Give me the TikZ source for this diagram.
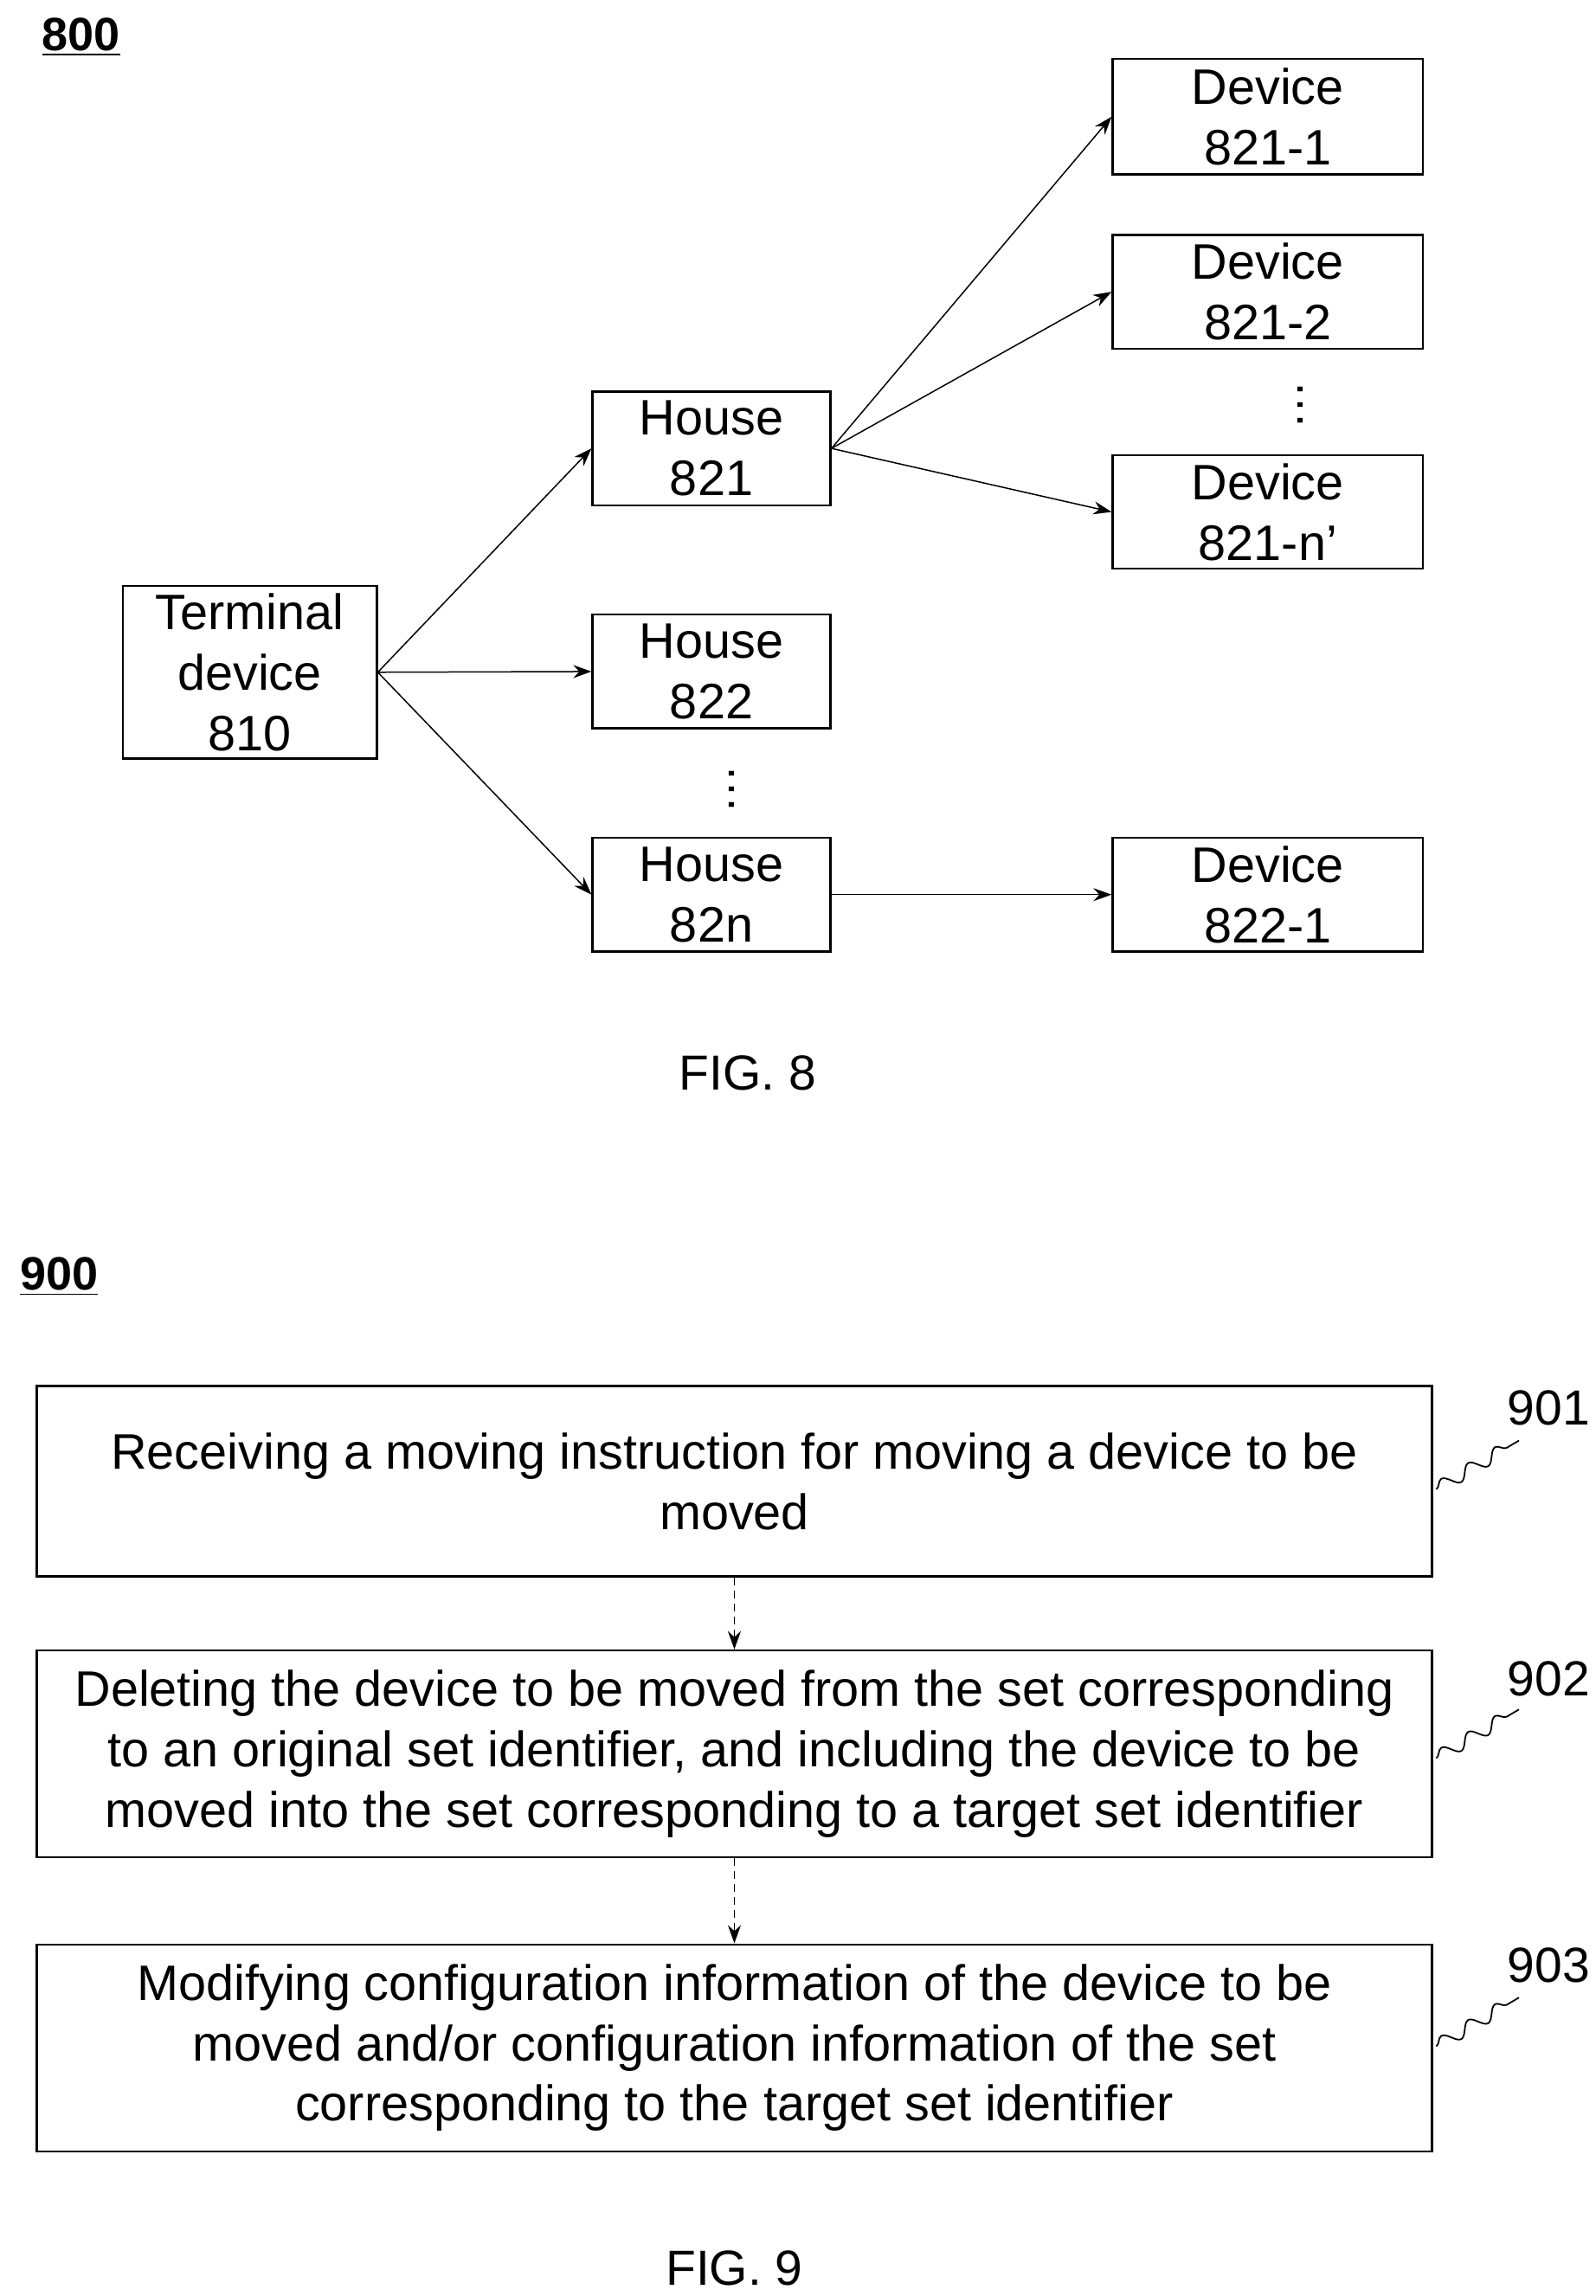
\documentclass[tikz,border=0pt]{standalone}
\usepackage{fontspec}
\setmainfont{Liberation Sans}
\usetikzlibrary{arrows.meta,decorations.pathmorphing}
\begin{document}
\begin{tikzpicture}[x=0.02cm,y=-0.02cm,
  box/.style={draw,line width=0.8pt,inner sep=0pt,align=center,font=\fontsize{19.2}{23.3}\selectfont},
  arr/.style={-{Stealth[length=7pt,width=5pt]},line width=0.5pt},
  darr/.style={-{Stealth[length=7pt,width=5pt]},line width=0.5pt,densely dashed},
  lbl/.style={font=\fontsize{19}{23.3}\selectfont},
  sq/.style={line width=0.6pt,decorate,decoration={snake,segment length=12pt,amplitude=2.5pt}}]
\useasboundingbox (0,0) rectangle (1080,1554);
\node[lbl,font=\fontsize{18}{20}\selectfont\bfseries] (n800) at (55,25) {\underline{800}};
\node[box,minimum width=172*0.02cm,minimum height=117*0.02cm] (t) at (169,455) {Terminal\\device\\810};
\node[box,minimum width=161*0.02cm,minimum height=77*0.02cm] (h1) at (481.5,303.5) {House\\821};
\node[box,minimum width=161*0.02cm,minimum height=77*0.02cm] (h2) at (481.5,454.5) {House\\822};
\node[box,minimum width=161*0.02cm,minimum height=77*0.02cm] (hn) at (481.5,605.5) {House\\82n};
\node[box,minimum width=210*0.02cm,minimum height=78*0.02cm] (d1) at (858,79) {Device\\821-1};
\node[box,minimum width=210*0.02cm,minimum height=77*0.02cm] (d2) at (858,197.5) {Device\\821-2};
\node[box,minimum width=210*0.02cm,minimum height=77*0.02cm] (dn) at (858,346.5) {Device\\821-n’};
\node[box,minimum width=210*0.02cm,minimum height=77*0.02cm] (e1) at (858,605.5) {Device\\822-1};
\node[lbl] (dots1) at (880,274) {\rotatebox{90}{\dots}};
\node[lbl] (dots2) at (495,534) {\rotatebox{90}{\dots}};
\draw[arr] (t.east) -- (h1.west);
\draw[arr] (t.east) -- (h2.west);
\draw[arr] (t.east) -- (hn.west);
\draw[arr] (h1.east) -- (d1.west);
\draw[arr] (h1.east) -- (d2.west);
\draw[arr] (h1.east) -- (dn.west);
\draw[arr] (hn.east) -- (e1.west);
\node[lbl] (f8) at (506,726) {FIG. 8};

\node[lbl,font=\fontsize{18}{20}\selectfont\bfseries] (n900) at (40,864) {\underline{900}};
\node[box,minimum width=944*0.02cm,minimum height=129*0.02cm] (b1) at (497,1002.5) {Receiving a moving instruction for moving a device to be\\moved};
\node[box,minimum width=944*0.02cm,minimum height=140*0.02cm] (b2) at (497,1187) {Deleting the device to be moved from the set corresponding\\to an original set identifier, and including the device to be\\moved into the set corresponding to a target set identifier};
\node[box,minimum width=944*0.02cm,minimum height=140*0.02cm] (b3) at (497,1386) {Modifying configuration information of the device to be\\moved and/or configuration information of the set\\corresponding to the target set identifier};
\draw[darr] (b1) -- (b2);
\draw[darr] (b2) -- (b3);
\node[lbl] (l1) at (1048,953) {901};
\node[lbl] (l2) at (1048,1136) {902};
\node[lbl] (l3) at (1048,1330) {903};
\coordinate (s1) at (972,1008); \coordinate (e1s) at (1028,975);
\coordinate (s2) at (972,1190); \coordinate (e2s) at (1028,1157);
\coordinate (s3) at (972,1385); \coordinate (e3s) at (1028,1352);
\draw[sq] (s1) -- (e1s);
\draw[sq] (s2) -- (e2s);
\draw[sq] (s3) -- (e3s);
\node[lbl] (f9) at (497,1535) {FIG. 9};
\end{tikzpicture}
\end{document}
